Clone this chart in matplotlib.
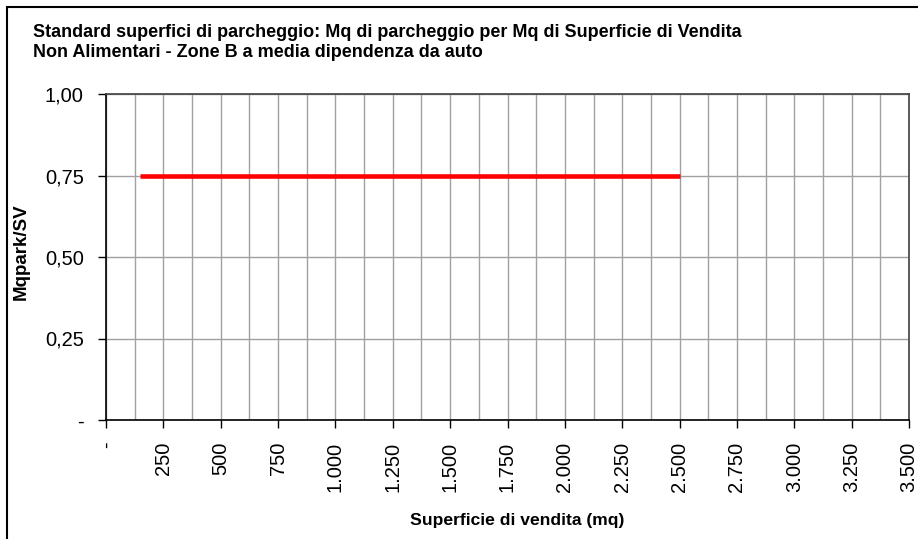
import numpy as np
import matplotlib.pyplot as plt
from matplotlib.ticker import FuncFormatter, MultipleLocator
from matplotlib.patches import Rectangle

plt.rcParams['font.family'] = ['Liberation Sans', 'DejaVu Sans']

# Data
sv = [150, 2500]            # superficie di vendita (mq)
mqpark_sv = [0.75, 0.75]    # Mq parcheggio / Mq SV
x_ticks = np.arange(0, 3501, 250)
y_ticks = [0, 0.25, 0.5, 0.75, 1.0]

title_1 = "Standard superfici di parcheggio: Mq di parcheggio per Mq di Superficie di Vendita"
title_2 = "Non Alimentari - Zone B a media dipendenza da auto"


def fmt_x(v, pos):
    if v == 0:
        return "-"
    return f"{int(v):,}".replace(",", ".")


def fmt_y(v, pos):
    if abs(v) < 1e-9:
        return "-"
    return f"{v:.2f}".replace(".", ",")


W, H = 918, 539
fig = plt.figure(figsize=(W / 100, H / 100), dpi=100)
ax = fig.add_axes([106 / W, 1 - 420 / H, (909 - 106) / W, (420 - 94) / H])

ax.plot(sv, mqpark_sv, color="#ff0000", linewidth=3.3, solid_capstyle="butt", zorder=3)

ax.set_xlim(0, 3500)
ax.set_ylim(0, 1)
ax.set_xticks(x_ticks)
ax.xaxis.set_minor_locator(MultipleLocator(125))
ax.set_yticks(y_ticks)
ax.xaxis.set_major_formatter(FuncFormatter(fmt_x))
ax.yaxis.set_major_formatter(FuncFormatter(fmt_y))

ax.grid(True, which="both", axis="x", color="#a0a0a0", linewidth=1.0)
ax.grid(True, which="major", axis="y", color="#a0a0a0", linewidth=1.0)
ax.set_axisbelow(True)

ax.tick_params(axis="x", which="major", direction="out", length=6, width=1,
               labelsize=14.5, labelrotation=90, pad=9.5)
ax.tick_params(axis="x", which="minor", length=0)
ax.tick_params(axis="y", direction="out", length=6, width=1, labelsize=14.5, pad=10)

for s in ["left", "bottom"]:
    ax.spines[s].set_color("black")
    ax.spines[s].set_linewidth(1.2)
for s in ["top", "right"]:
    ax.spines[s].set_color("#404040")
    ax.spines[s].set_linewidth(1.2)

ax.set_xlabel("Superficie di vendita (mq)", fontsize=12.6, fontweight="bold", va="center")
ax.xaxis.set_label_coords((517.5 - 106) / 803, (420 - 520) / 326)
ax.set_ylabel("Mqpark/SV", fontsize=13.5, fontweight="bold", va="center")
ax.yaxis.set_label_coords((21 - 106) / 803, (420 - 252) / 326)

fig.text(33 / W, 1 - 37 / H, title_1, fontsize=13, fontweight="bold",
         ha="left", va="baseline")
fig.text(33 / W, 1 - 57 / H, title_2, fontsize=13, fontweight="bold",
         ha="left", va="baseline")

# chart border (left and top visible)
fig.patches.append(Rectangle((7 / W, -0.1), 1.2, 1 - 7 / H + 0.1,
                             transform=fig.transFigure, fill=False,
                             edgecolor="black", linewidth=1.5))

fig.savefig("out.png", dpi=100)
